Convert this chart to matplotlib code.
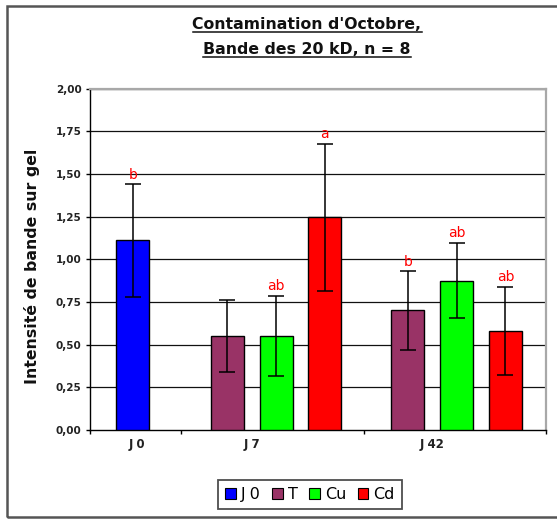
import matplotlib
matplotlib.use("Agg")
import matplotlib.pyplot as plt
from matplotlib.patches import Rectangle, Patch
from matplotlib.lines import Line2D

# ---------------- data ----------------
categories = ['J 0', 'J 7', 'J 42']
series_names = ['J 0', 'T', 'Cu', 'Cd']

j0_mean = [1.11]
j0_err = [0.33]
j0_letters = ['b']

t_mean = [0.55, 0.70]
t_err = [0.21, 0.23]
t_letters = ['', 'b']

cu_mean = [0.55, 0.875]
cu_err = [0.235, 0.22]
cu_letters = ['ab', 'ab']

cd_mean = [1.245, 0.58]
cd_err = [0.43, 0.26]
cd_letters = ['a', 'ab']

y_ticks = [0.0, 0.25, 0.5, 0.75, 1.0, 1.25, 1.5, 1.75, 2.0]
title_lines = ["Contamination d'Octobre,", "Bande des 20 kD, n = 8"]
ylabel = "Intensité de bande sur gel"

# ---------------- style / layout ----------------
colors = {'J 0': '#0000FF', 'T': '#993366', 'Cu': '#00FF00', 'Cd': '#FF0000'}
group_centers = [0.47, 2.04, 4.02]
slot = 0.535
bar_w = 0.362
boundaries = [0, 1, 3, 5]
label_pos = [0.52, 1.78, 3.75]

W, H = 557, 520
fig = plt.figure(figsize=(W / 100, H / 100), dpi=100)
plt.rcParams['font.family'] = ['DejaVu Sans']

ax = fig.add_axes([90 / W, (H - 430) / H, (546 - 90) / W, (430 - 88.5) / H])
ax.set_xlim(0, 5)
ax.set_ylim(0, 2.0)

def draw(xs, means, errs, letters, name):
    ax.bar(xs, means, width=bar_w, color=colors[name], edgecolor='black',
           linewidth=1.0, zorder=3)
    ax.errorbar(xs, means, yerr=errs, fmt='none', ecolor='black',
                elinewidth=1.1, capsize=5.5, capthick=1.1, zorder=4)
    for x, m, e, l in zip(xs, means, errs, letters):
        if l:
            ax.annotate(l, (x, m + e), xytext=(0, 4), textcoords='offset points',
                        ha='center', va='baseline', color='#FF0000', fontsize=10,
                        zorder=5)

draw([group_centers[0]], j0_mean, j0_err, j0_letters, 'J 0')
g = group_centers[1:]
draw([c - slot for c in g], t_mean, t_err, t_letters, 'T')
draw([c for c in g], cu_mean, cu_err, cu_letters, 'Cu')
draw([c + slot for c in g], cd_mean, cd_err, cd_letters, 'Cd')

# grid
for yv in y_ticks[1:]:
    ax.axhline(yv, color='#111111', linewidth=0.9, zorder=1)

ax.set_yticks(y_ticks)
ax.set_yticklabels([f"{v:.2f}".replace('.', ',') for v in y_ticks])
ax.tick_params(axis='y', direction='out', length=3, width=1, pad=3,
               labelsize=7.5, labelcolor='#222222')
for lab in ax.get_yticklabels():
    lab.set_fontweight('bold')
ax.set_xticks(boundaries)
ax.set_xticklabels([])
ax.tick_params(axis='x', which='major', direction='out', length=3, width=1)
ax.set_xticks(label_pos, categories, minor=True)
ax.tick_params(axis='x', which='minor', length=0, pad=6, labelsize=8.5)
for lab in ax.get_xticklabels(minor=True):
    lab.set_fontweight('bold')
    lab.set_color('#222222')

for s in ['left', 'bottom']:
    ax.spines[s].set_color('black')
    ax.spines[s].set_linewidth(1.0)
for s in ['top', 'right']:
    ax.spines[s].set_color('#a8a8a8')
    ax.spines[s].set_linewidth(1.6)

# y label
fig.text(31.7 / W, (H - 266.5) / H, ylabel, rotation=90, ha='center', va='center',
         fontsize=11.3, fontweight='bold', color='#111111')

# title with underline
baselines = [29, 54]
title_texts = []
for line, b in zip(title_lines, baselines):
    t = fig.text(307 / W, (H - b) / H, line, ha='center', va='baseline',
                 fontsize=11.3, fontweight='bold', color='#111111')
    title_texts.append(t)
fig.canvas.draw()
r = fig.canvas.get_renderer()
for t, b in zip(title_texts, baselines):
    bb = t.get_window_extent(renderer=r)
    yline = (H - b - 2.7) / H
    fig.add_artist(Line2D([bb.x0 / W, bb.x1 / W], [yline, yline],
                          transform=fig.transFigure, color='#111111', linewidth=1.1))

# legend
handles = [Patch(facecolor=colors[n], edgecolor='black', linewidth=0.8, label=n)
           for n in series_names]
leg = fig.legend(handles=handles, loc='center', ncol=4,
                 bbox_to_anchor=(310 / W, (H - 494.5) / H), fontsize=11.5,
                 frameon=True, fancybox=False, shadow=False,
                 handlelength=0.65, handleheight=0.65, handletextpad=0.3,
                 columnspacing=0.75, borderpad=0.45)
leg.get_frame().set_edgecolor('#222222')
leg.get_frame().set_linewidth(1.3)

# outer frame
fig.add_artist(Rectangle((7 / W, (H - 517) / H), 1.1, (517 - 5.7) / H,
                         transform=fig.transFigure, fill=False,
                         edgecolor='#555555', linewidth=1.8, clip_on=False))

fig.savefig('out.png', dpi=100)
